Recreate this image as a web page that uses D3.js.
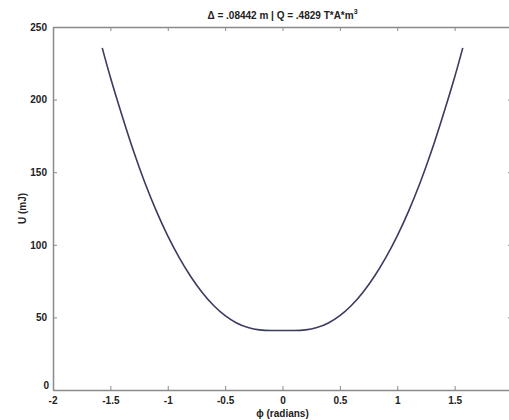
<!DOCTYPE html>
<meta charset="utf-8">
<style>
body { margin: 0; background: #fff; }
text { font-family: "Liberation Sans", Arial, sans-serif; fill: #222; }
.tick text { font-size: 10px; font-weight: bold; }
</style>
<body>
<div id="chart"></div>
<script src="https://d3js.org/d3.v7.min.js"></script>
<script>
// curve values
var phi = [-1.571, -1.5, -1.4, -1.3, -1.2, -1.1, -1.0, -0.9, -0.8, -0.7, -0.6, -0.5, -0.4, -0.3, -0.2, -0.1,
           0, 0.1, 0.2, 0.3, 0.4, 0.5, 0.6, 0.7, 0.8, 0.9, 1.0, 1.1, 1.2, 1.3, 1.4, 1.5, 1.571];
var U = [235.6, 215.4, 189.4, 164.9, 142.9, 123.4, 106.2, 91.2, 78.2, 67.2, 58.2, 51.2, 46.2, 43, 41.4, 41,
         41, 41, 41.4, 43, 46.2, 51.2, 58.2, 67.2, 78.2, 91.2, 106.2, 123.4, 142.9, 164.9, 189.4, 215.4, 235.6];
var xTicks = [-2, -1.5, -1, -0.5, 0, 0.5, 1, 1.5, 2];
var yTicks = [0, 50, 100, 150, 200, 250];

var margin = {top: 27, right: -3, bottom: 30, left: 53},
    width = 509 - margin.left - margin.right,
    height = 420 - margin.top - margin.bottom;

var svg = d3.select("#chart").append("svg")
    .attr("width", 509)
    .attr("height", 420)
  .append("g")
    .attr("transform", "translate(" + margin.left + "," + margin.top + ")");

var x = d3.scaleLinear().domain([-2, 2]).range([0, width]);
var y = d3.scaleLinear().domain([0, 250]).range([height, 0]);

function styleAxis(g) {
  g.select(".domain").attr("stroke", "#8a8a8a").attr("stroke-width", 1.5);
  g.selectAll(".tick line").attr("stroke", "#8a8a8a");
}

// bottom and top (the "2" label falls outside the window, as in the original)
svg.append("g").attr("transform", "translate(0," + height + ")")
  .call(d3.axisBottom(x).tickValues(xTicks).tickSize(-4).tickSizeOuter(0).tickPadding(7)
    .tickFormat(function(d) { return (d === -2 || d === 2) ? "" : d; }))
  .call(styleAxis);
svg.append("g")
  .call(d3.axisTop(x).tickValues(xTicks).tickSize(-4).tickSizeOuter(0).tickFormat(""))
  .call(styleAxis);

// left and right
svg.append("g")
  .call(d3.axisLeft(y).tickValues(yTicks).tickSize(-4).tickSizeOuter(0).tickPadding(6)
    .tickFormat(function(d) { return d === 0 ? "" : d; }))
  .call(styleAxis);
svg.append("g").attr("transform", "translate(" + width + ",0)")
  .call(d3.axisRight(y).tickValues(yTicks).tickSize(-4).tickSizeOuter(0).tickFormat(""))
  .call(styleAxis);

// corner labels "0" and "-2" as MATLAB places them
svg.append("text").attr("x", -4).attr("y", y(0) - 1).attr("text-anchor", "end")
  .style("font-size", "10px").style("font-weight", "bold").text("0");
svg.append("text").attr("x", x(-2)).attr("y", y(0) + 14).attr("text-anchor", "middle")
  .style("font-size", "10px").style("font-weight", "bold").text("-2");

// the curve
var pts = phi.map(function(p, i) { return [p, U[i]]; });
svg.append("path")
  .datum(pts)
  .attr("fill", "none")
  .attr("stroke", "#3b3b5e")
  .attr("stroke-width", 1.6)
  .attr("d", d3.line().curve(d3.curveNatural)
    .x(function(d) { return x(d[0]); })
    .y(function(d) { return y(d[1]); }));

// title
var title = svg.append("text")
  .attr("x", x(0)).attr("y", -8)
  .attr("text-anchor", "middle")
  .style("font-size", "10px").style("font-weight", "bold");
title.append("tspan").text("\u0394 = .08442 m | Q = .4829 T*A*m");
title.append("tspan").attr("dy", -5).style("font-size", "7px").text("3");

// axis labels
svg.append("text")
  .attr("x", x(0)).attr("y", height + 27)
  .attr("text-anchor", "middle")
  .style("font-size", "10px").style("font-weight", "bold")
  .text("\u03d5 (radians)");

svg.append("text")
  .attr("transform", "rotate(-90)")
  .attr("x", -height / 2).attr("y", -27)
  .attr("text-anchor", "middle")
  .style("font-size", "10px").style("font-weight", "bold")
  .text("U (mJ)");
</script>
</body>
